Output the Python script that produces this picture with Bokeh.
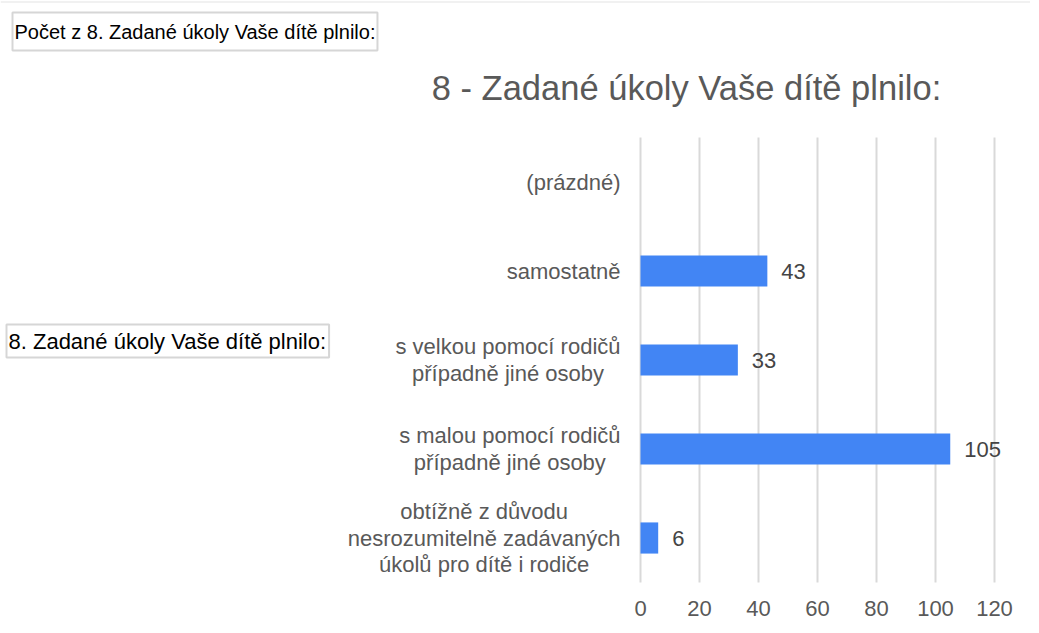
from bokeh.plotting import figure
from bokeh.models import ColumnDataSource, Range1d, Span
from bokeh.embed import file_html
from bokeh.resources import INLINE
from bokeh.core.properties import value

# ---- data ----
categories = [
    "(prázdné)",
    "samostatně",
    "s velkou pomocí rodičů\npřípadně jiné osoby",
    "s malou pomocí rodičů\npřípadně jiné osoby",
    "obtížně z důvodu\nnesrozumitelně zadávaných\núkolů pro dítě i rodiče",
]
counts = [None, 43, 33, 105, 6]
x_ticks = [0, 20, 40, 60, 80, 100, 120]
chart_title = "8 - Zadané úkoly Vaše dítě plnilo:"
filter_label = "Počet z 8. Zadané úkoly Vaše dítě plnilo:"
row_label = "8. Zadané úkoly Vaše dítě plnilo:"

# ---- layout / style ----
FONT = value("Liberation Sans")
BAR = "#4285F4"
GRAY = "#595959"
W, H = 1030, 625
X0_PX, XS = 640.0, 2.95      # pixel of value 0, pixels per unit
ROW0_PX, ROW = 181.5, 89.0   # pixel of first row centre, pixels per row

def px2x(px):
    return (px - X0_PX) / XS

def py2y(py):
    return (py - ROW0_PX) / ROW

n = len(categories)
pos = list(range(n))  # row index, 0 = top
bar_pos = [i for i, v in zip(pos, counts) if v is not None]
bar_vals = [v for v in counts if v is not None]
src = ColumnDataSource(dict(y=bar_pos, count=bar_vals, label=[str(v) for v in bar_vals]))

p = figure(
    width=W, height=H,
    x_range=Range1d(px2x(0), px2x(W)),
    y_range=Range1d(py2y(H), py2y(0)),
    output_backend="svg", toolbar_location=None,
    x_axis_location=None, y_axis_location=None,
    min_border=0,
)
p.outline_line_color = None
p.grid.visible = False
p.background_fill_color = "white"
p.border_fill_color = "white"

# faint top rule
p.add_layout(Span(location=py2y(1.5), dimension="width", line_color="#e3e3e3", line_width=1))

# vertical grid lines at tick values spanning the category band
p.segment(x0=x_ticks, x1=x_ticks, y0=[-0.5] * len(x_ticks), y1=[n - 0.5] * len(x_ticks),
          line_color="#d9d9d9", line_width=2)

# bars and value labels
p.hbar(y="y", left=0, right="count", height=0.35, color=BAR, line_color=None, source=src)
p.text(x="count", y="y", text="label", source=src, x_offset=14,
       text_baseline="middle", text_align="left",
       text_font=FONT, text_font_size="22px", text_color="#444444")

# x tick labels
p.text(x=x_ticks, y=[n - 0.5] * len(x_ticks), text=[str(t) for t in x_ticks],
       y_offset=26, text_align="center", text_baseline="middle",
       text_font=FONT, text_font_size="22px", text_color=GRAY)

# category labels: block right-aligned, lines centered
p.text(x=[0] * n, y=pos, text=categories, x_offset=-20, anchor="center_right",
       text_align="center", text_baseline="middle", text_line_height=1.06,
       text_font=FONT, text_font_size="22px", text_color=GRAY)

# title
p.text(x=[px2x(686)], y=[py2y(87)], text=[chart_title],
       text_align="center", text_baseline="middle",
       text_font=FONT, text_font_size="34.5px", text_color=GRAY)

# filter boxes
p.text(x=[px2x(12)], y=[py2y(31)], text=[filter_label], anchor="center_left",
       text_align="left", text_baseline="middle",
       padding=dict(left=2, right=2, top=8, bottom=8),
       border_line_color="#d6d6d6", border_line_width=2, background_fill_color="white",
       text_font=FONT, text_font_size="20px", text_color="black")
p.text(x=[px2x(6)], y=[py2y(340.5)], text=[row_label], anchor="center_left",
       text_align="left", text_baseline="middle", padding=dict(left=2, right=3, top=4, bottom=4),
       border_line_color="#d6d6d6", border_line_width=2, background_fill_color="white",
       text_font=FONT, text_font_size="22px", text_color="black")

open("out.html", "w").write(file_html(p, INLINE))
